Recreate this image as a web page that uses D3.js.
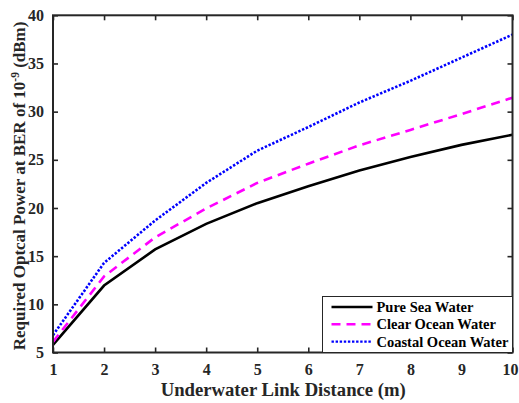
<!DOCTYPE html>
<html>
<head>
<meta charset="utf-8">
<script src="https://cdn.jsdelivr.net/npm/d3@7"></script>
<style>
  body { margin: 0; background: #fff; }
  svg text { font-family: "Liberation Serif"; font-weight: 700; fill: #262626; }
</style>
</head>
<body>
<svg id="chart" width="519" height="403"></svg>
<script>
// Link distances (m)
const distances = [1, 2, 3, 4, 5, 6, 7, 8, 9, 10];
// Required optical power (dBm) for BER of 1e-9
const pureSea = [5.8, 11.95, 15.7, 18.35, 20.5, 22.25, 23.9, 25.3, 26.55, 27.6];
const clearOcean = [6.1, 12.9, 16.95, 19.95, 22.6, 24.6, 26.5, 28.1, 29.75, 31.45];
const coastalOcean = [6.8, 14.3, 18.7, 22.6, 25.95, 28.4, 30.95, 33.2, 35.6, 38.0];

const xTicks = [1, 2, 3, 4, 5, 6, 7, 8, 9, 10];
const yTicks = [5, 10, 15, 20, 25, 30, 35, 40];

const seriesNames = ["Pure Sea Water", "Clear Ocean Water", "Coastal Ocean Water"];
const seriesValues = [pureSea, clearOcean, coastalOcean];
const seriesColors = ["#000000", "#ff00ff", "#0000ff"];
const seriesDash = [null, "9,6", "2.4,1.7"];

const svg = d3.select("#chart");
const margin = { left: 53, right: 6.5, top: 15.3, bottom: 50.5 };
const W = 519, H = 403;
const x = d3.scaleLinear().domain([1, 10]).range([margin.left, W - margin.right]);
const y = d3.scaleLinear().domain([5, 40]).range([H - margin.bottom, margin.top]);

const axisColor = "#262626";
const tickLen = 5;

// Series lines
const line = d3.line().x((d, i) => x(distances[i])).y(d => y(d)).curve(d3.curveLinear);
seriesValues.forEach((vals, k) => {
  svg.append("path")
    .datum(vals)
    .attr("d", line)
    .attr("fill", "none")
    .attr("stroke", seriesColors[k])
    .attr("stroke-width", 2.6)
    .attr("stroke-dasharray", seriesDash[k]);
});

// Axes with inward ticks on all four sides
const bottomAxis = d3.axisBottom(x).tickValues(xTicks).tickSizeInner(-tickLen).tickSizeOuter(0).tickPadding(11);
const topAxis = d3.axisTop(x).tickValues(xTicks).tickSizeInner(-tickLen).tickSizeOuter(0).tickFormat("");
const leftAxis = d3.axisLeft(y).tickValues(yTicks).tickSizeInner(-tickLen).tickSizeOuter(0).tickPadding(9);
const rightAxis = d3.axisRight(y).tickValues(yTicks).tickSizeInner(-tickLen).tickSizeOuter(0).tickFormat("");

function styleAxis(g) {
  g.select(".domain").remove();
  g.selectAll("line").attr("stroke", axisColor).attr("stroke-width", 1.6);
  g.selectAll("text").attr("fill", axisColor)
    .style("font-size", "16px")
    .style("font-family", "'Liberation Serif'").style("font-weight", "700");
}

const gx = svg.append("g").attr("transform", `translate(0,${H - margin.bottom})`).call(bottomAxis).call(styleAxis);
// keep the last tick label inside the page
gx.selectAll(".tick text").filter(d => d === 10).attr("dx", -2.5);
svg.append("g").attr("transform", `translate(0,${margin.top})`).call(topAxis).call(styleAxis);
svg.append("g").attr("transform", `translate(${margin.left},0)`).call(leftAxis).call(styleAxis);
svg.append("g").attr("transform", `translate(${W - margin.right},0)`).call(rightAxis).call(styleAxis);

// Plot frame
svg.append("rect")
  .attr("x", x(1)).attr("y", y(40))
  .attr("width", x(10) - x(1)).attr("height", y(5) - y(40))
  .attr("fill", "none").attr("stroke", axisColor).attr("stroke-width", 2);

// Legend
const legX = 322.5, legY = 296.5, legW = (W - margin.right) - 322.5, legH = y(5) - 296.5;
const legend = svg.append("g");
legend.append("rect")
  .attr("x", legX).attr("y", legY).attr("width", legW).attr("height", legH)
  .attr("fill", "#fff").attr("stroke", axisColor).attr("stroke-width", 1);
seriesNames.forEach((name, k) => {
  const cy = legY + 10.5 + k * 17.3;
  legend.append("line")
    .attr("x1", legX + 9).attr("x2", legX + 50)
    .attr("y1", cy).attr("y2", cy)
    .attr("stroke", seriesColors[k]).attr("stroke-width", 2.4)
    .attr("stroke-dasharray", seriesDash[k]);
  legend.append("text")
    .attr("x", legX + 54).attr("y", cy + 5)
    .style("font-size", "14.5px").style("fill", "#000")
    .text(name);
});

// Axis titles
svg.append("text")
  .attr("x", (x(1) + x(10)) / 2 + 0.5).attr("y", 396)
  .attr("text-anchor", "middle").style("font-size", "18.7px")
  .text("Underwater Link Distance (m)");

const yl = svg.append("text")
  .attr("transform", `translate(25,${(y(5) + y(40)) / 2 + 2}) rotate(-90)`)
  .attr("text-anchor", "middle").style("font-size", "17px");
yl.append("tspan").text("Required Optcal Power at BER of 10");
yl.append("tspan").attr("dy", -6).style("font-size", "11.5px").text("-9");
yl.append("tspan").attr("dy", 6).text(" (dBm)");
</script>
</body>
</html>
